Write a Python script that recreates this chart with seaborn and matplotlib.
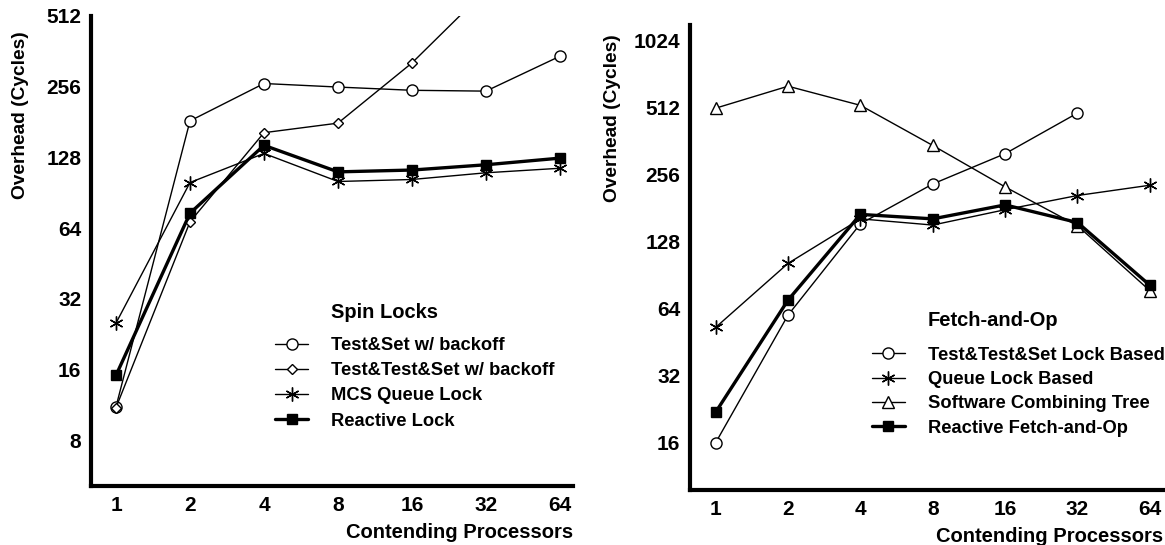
import numpy as np
import pandas as pd
import seaborn as sns
import matplotlib.pyplot as plt
from matplotlib.ticker import FixedLocator, NullLocator, FixedFormatter

procs = [1, 2, 4, 8, 16, 32, 64]

# Spin locks (left panel)
spin_names = ['Test&Set w/ backoff', 'Test&Test&Set w/ backoff', 'MCS Queue Lock', 'Reactive Lock']
ts_backoff = [11.1, 183, 264, 255, 247, 245, 345]
tts_backoff = [11.0, 68, 163, 179, 323, 660, 1300]
mcs_queue = [25.2, 100, 133, 101, 103, 110, 115]
reactive_lock = [15.1, 74, 144, 111, 113, 119, 127]

# Fetch-and-op (right panel)
fop_names = ['Test&Test&Set Lock Based', 'Queue Lock Based', 'Software Combining Tree', 'Reactive Fetch-and-Op']
tts_lock_based = [15.9, 59.5, 153, 231, 316, 481, np.nan]
queue_lock_based = [52.4, 101.6, 161, 151, 177, 205, 228]
combining_tree = [506, 635, 521, 344, 224, 150, 76.6]
reactive_fop = [21.8, 69.5, 168.6, 161, 186, 155, 81]

left_ticks = [8, 16, 32, 64, 128, 256, 512]
right_ticks = [16, 32, 64, 128, 256, 512, 1024]

sns.set_style('white')
plt.rcParams['font.family'] = ['Liberation Sans', 'DejaVu Sans']
plt.rcParams['font.weight'] = 'bold'
plt.rcParams['axes.labelweight'] = 'bold'
plt.rcParams['text.color'] = 'black'
plt.rcParams['axes.labelcolor'] = 'black'

thin = dict(color='black', lw=1.0, markeredgecolor='black', markeredgewidth=1.0)
styles_left = [
    dict(marker='o', markersize=8, markerfacecolor='white', **thin),
    dict(marker='D', markersize=5.5, markerfacecolor='white', **thin),
    dict(marker=(6, 2, 0), markersize=10, markerfacecolor='black', **thin),
    dict(marker='s', markersize=7.5, markerfacecolor='black', color='black', lw=2.4,
         markeredgecolor='black', markeredgewidth=1.0),
]
styles_right = [
    dict(marker='o', markersize=8, markerfacecolor='white', **thin),
    dict(marker=(6, 2, 0), markersize=10, markerfacecolor='black', **thin),
    dict(marker='^', markersize=8, markerfacecolor='white', **thin),
    dict(marker='s', markersize=7.5, markerfacecolor='black', color='black', lw=2.4,
         markeredgecolor='black', markeredgewidth=1.0),
]

fig = plt.figure(figsize=(11.65, 5.45), dpi=100)
ax1 = fig.add_axes([0.0781, 0.1083, 0.4137, 0.8624])
ax2 = fig.add_axes([0.5923, 0.1009, 0.4060, 0.8532])


def draw_panel(ax, names, series, styles, yticks, ylim, xlim, leg_x, leg_y, title, title_xy, ylab_xy, spacing):
    for name, vals, st in zip(names, series, styles):
        df = pd.DataFrame({'procs': procs, 'overhead': vals})
        sns.lineplot(data=df, x='procs', y='overhead', ax=ax, label=name, estimator=None, **st)
    ax.set_xscale('log', base=2)
    ax.set_yscale('log', base=2)
    ax.set_xlim(*xlim)
    ax.set_ylim(*ylim)
    ax.xaxis.set_major_locator(FixedLocator(procs))
    ax.xaxis.set_major_formatter(FixedFormatter([str(p) for p in procs]))
    ax.yaxis.set_major_locator(FixedLocator(yticks))
    ax.yaxis.set_major_formatter(FixedFormatter([str(t) for t in yticks]))
    ax.xaxis.set_minor_locator(NullLocator())
    ax.yaxis.set_minor_locator(NullLocator())
    ax.tick_params(axis='both', direction='in', length=7, width=1.3, labelsize=15, color='black', labelcolor='black')
    ax.tick_params(axis='y', pad=7)
    ax.tick_params(axis='x', pad=7)
    for side in ['top', 'right']:
        ax.spines[side].set_visible(False)
    for side in ['left', 'bottom']:
        ax.spines[side].set_linewidth(3.0)
        ax.spines[side].set_color('black')
    ax.set_xlabel('Contending Processors', fontsize=14.5, loc='right', labelpad=6)
    ax.set_ylabel('Overhead (Cycles)', fontsize=13.8)
    ax.yaxis.set_label_coords(*ylab_xy)
    ax.yaxis.label.set_va('bottom')
    ax.yaxis.label.set_ha('center')
    ax.legend(loc='upper left', bbox_to_anchor=(leg_x, leg_y), frameon=False,
              fontsize=13.2, borderpad=0, borderaxespad=0, handlelength=1.8,
              handletextpad=1.25, labelspacing=spacing)
    ax.text(title_xy[0], title_xy[1], title, transform=ax.transAxes, fontsize=14.5,
            ha='left', va='center', color='black')


draw_panel(ax1, spin_names, [ts_backoff, tts_backoff, mcs_queue, reactive_lock], styles_left,
           left_ticks, (5.1, 512), (0.791, 72.3), 0.382, 0.317, 'Spin Locks', (0.498, 0.370),
           (-0.128, 0.789), 0.45)
draw_panel(ax2, fop_names, [tts_lock_based, queue_lock_based, combining_tree, reactive_fop], styles_right,
           right_ticks, (9.74, 1196), (0.782, 72.6), 0.384, 0.308, 'Fetch-and-Op', (0.502, 0.365),
           (-0.146, 0.80), 0.4)

fig.savefig('out.png', dpi=100)
